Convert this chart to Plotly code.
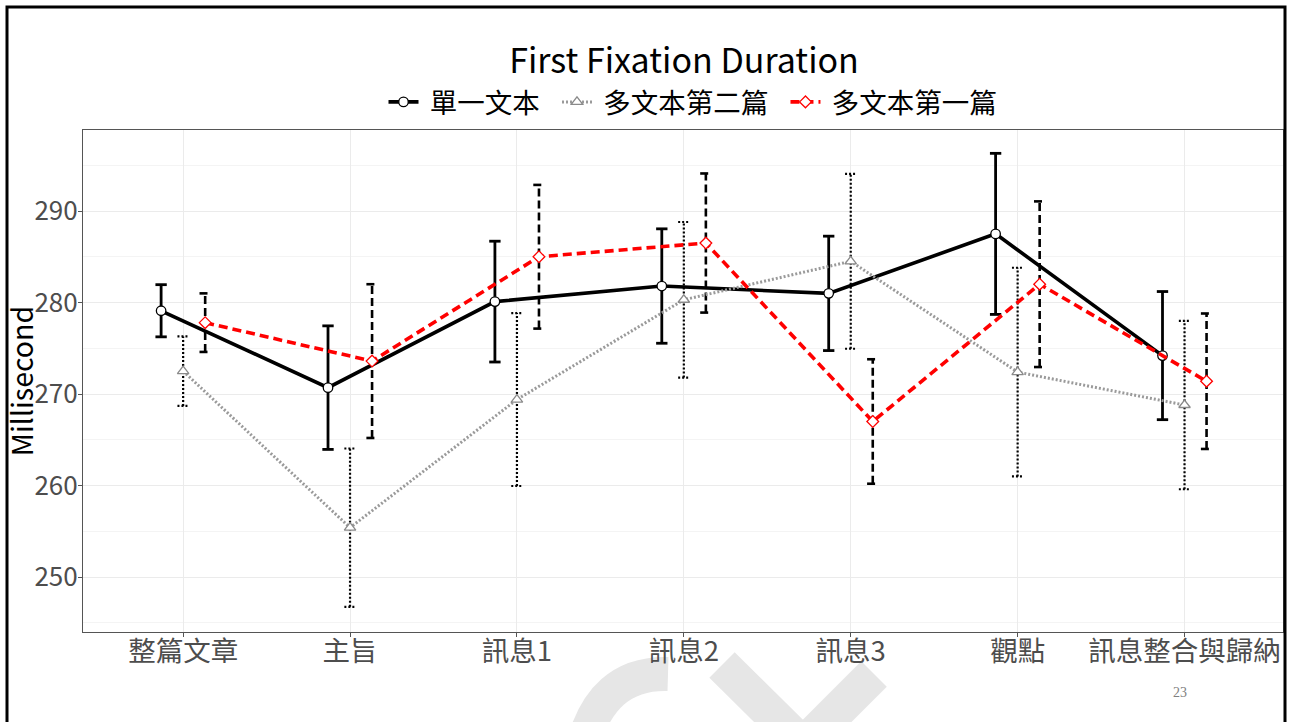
import numpy as np
import plotly.graph_objects as go

categories = ["整篇文章", "主旨", "訊息1", "訊息2", "訊息3", "觀點", "訊息整合與歸納"]

series_names = ["單一文本", "多文本第二篇", "多文本第一篇"]

single_mean = [279.1, 270.7, 280.1, 281.8, 281.0, 287.5, 274.2]
single_se = [2.85, 6.75, 6.6, 6.25, 6.25, 8.8, 7.0]

multi2_mean = [272.5, 255.4, 269.4, 280.3, 284.5, 272.4, 268.8]
multi2_se = [3.8, 8.65, 9.45, 8.5, 9.55, 11.4, 9.2]

multi1_mean = [277.8, 273.6, 285.0, 286.5, 267.0, 282.0, 271.4]
multi1_se = [3.2, 8.4, 7.85, 7.6, 6.8, 9.05, 7.4]

y_ticks = [250, 260, 270, 280, 290]

FONT = "Noto Sans CJK TC, Noto Sans, sans-serif"
NB = "\u00a0"

base = np.arange(len(categories))
dodge = 0.132
cap = 0.034

styles = [
    dict(name=series_names[0], mean=single_mean, se=single_se, off=-dodge,
         lcolor="#000000", lwidth=3.6, ldash="solid",
         marker=dict(symbol="circle", size=9.5, color="white",
                     line=dict(color="black", width=1.3)),
         ecolor="#000000", ewidth=2.8, edash="solid"),
    dict(name=series_names[1], mean=multi2_mean, se=multi2_se, off=0.0,
         lcolor="#9a9a9a", lwidth=3.0, ldash="2px,2px",
         marker=dict(symbol="triangle-up", size=10, color="white",
                     line=dict(color="#8a8a8a", width=1.3)),
         ecolor="#000000", ewidth=2.2, edash="2px,2px"),
    dict(name=series_names[2], mean=multi1_mean, se=multi1_se, off=dodge,
         lcolor="#ff0000", lwidth=3.6, ldash="9px,5px",
         marker=dict(symbol="diamond", size=9, color="white",
                     line=dict(color="#ff0000", width=1.3)),
         ecolor="#000000", ewidth=2.6, edash="8px,4px"),
]

fig = go.Figure()

# error bars (drawn as line segments so they can be dashed)
for s in styles:
    xs = base + s["off"]
    ex, ey = [], []
    for x, m, e in zip(xs, s["mean"], s["se"]):
        lo, hi = m - e, m + e
        ex += [x, x, None, x - cap, x + cap, None, x - cap, x + cap, None]
        ey += [lo, hi, None, hi, hi, None, lo, lo, None]
    fig.add_trace(go.Scatter(
        x=ex, y=ey, mode="lines", showlegend=False, hoverinfo="skip",
        line=dict(color=s["ecolor"], width=s["ewidth"], dash=s["edash"]),
    ))

# mean lines with points
for s in styles:
    xs = base + s["off"]
    fig.add_trace(go.Scatter(
        x=xs, y=s["mean"], mode="lines+markers", name=NB + s["name"] + NB + NB,
        line=dict(color=s["lcolor"], width=s["lwidth"], dash=s["ldash"]),
        marker=s["marker"],
    ))

def px_x(p):
    return (p - 83) / 1200.0

def px_y(p):
    return (632 - p) / 502.0

wm = "#e6e6e6"
shapes = [
    # slide frame
    dict(type="rect", xref="paper", yref="paper",
         x0=px_x(7), x1=px_x(1285), y0=px_y(760), y1=px_y(7),
         line=dict(color="black", width=3), layer="above"),
    # watermark
    dict(type="path", xref="paper", yref="paper", layer="below",
         path="M {},{} Q {},{} {},{}".format(px_x(668), px_y(674), px_x(600), px_y(672),
                                             px_x(582), px_y(750)),
         line=dict(color=wm, width=34)),
    dict(type="line", xref="paper", yref="paper", layer="below",
         x0=px_x(722), y0=px_y(665), x1=px_x(808), y1=px_y(750),
         line=dict(color=wm, width=36)),
    dict(type="line", xref="paper", yref="paper", layer="below",
         x0=px_x(874), y0=px_y(674), x1=px_x(796), y1=px_y(752),
         line=dict(color=wm, width=36)),
]

fig.update_layout(
    width=1293, height=722,
    margin=dict(l=83, r=10, t=130, b=90, autoexpand=False),
    paper_bgcolor="white", plot_bgcolor="white",
    font=dict(family=FONT, color="black"),
    title=dict(text="First Fixation Duration", x=px_x(684), xref="paper", xanchor="center",
               yref="container", y=1 - 61 / 722, yanchor="middle",
               font=dict(size=34, color="black", family=FONT)),
    legend=dict(orientation="h", x=px_x(699), xanchor="center",
                yref="container", y=1 - 102 / 722, yanchor="middle",
                font=dict(size=27.5, color="black", family=FONT),
                itemwidth=30, bgcolor="rgba(0,0,0,0)"),
    shapes=shapes,
    annotations=[dict(text="23", xref="paper", yref="paper",
                      x=px_x(1180), y=px_y(692), xanchor="center", yanchor="middle",
                      showarrow=False,
                      font=dict(family="Liberation Serif, serif", size=14, color="#7f7f7f"))],
    showlegend=True,
)

fig.update_xaxes(
    range=[-0.6, 6.59], tickmode="array", tickvals=list(base), ticktext=categories,
    automargin=False,
    showgrid=True, gridcolor="#ebebeb", gridwidth=1.2,
    showline=True, linecolor="#555555", linewidth=1.2, mirror=True,
    ticks="outside", ticklen=4, tickcolor="#555555",
    tickfont=dict(size=27.5, color="#4d4d4d", family=FONT),
    ticklabelstandoff=-9,
    zeroline=False,
)
fig.update_yaxes(
    range=[244.0, 298.85], tickmode="array", tickvals=y_ticks,
    automargin=False,
    showgrid=True, gridcolor="#ebebeb", gridwidth=1.2,
    minor=dict(tickmode="array", tickvals=[245, 255, 265, 275, 285, 295],
               showgrid=True, gridcolor="#f4f4f4", gridwidth=1),
    showline=True, linecolor="#555555", linewidth=1.2, mirror=True,
    ticks="outside", ticklen=4, tickcolor="#555555",
    tickfont=dict(size=26, color="#4d4d4d", family=FONT),
    ticklabelstandoff=-5,
    title=dict(text="Millisecond", font=dict(size=28.5, color="black", family=FONT), standoff=2),
    zeroline=False,
)

fig.write_html(
    "out.html",
    config={"displayModeBar": False},
    post_script="document.body.style.margin='0px';document.body.style.padding='0px';",
)
